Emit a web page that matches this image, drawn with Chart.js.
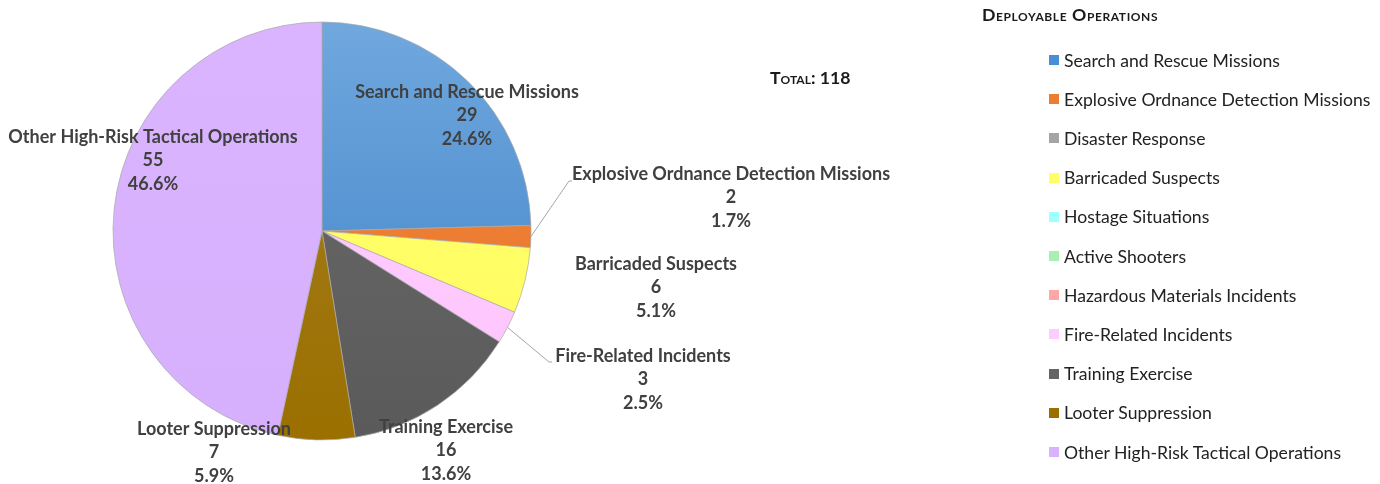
<!DOCTYPE html>
<html lang="en">
<head>
<meta charset="UTF-8" />
<title>Deployable Operations</title>
<script src="https://cdn.jsdelivr.net/npm/chart.js"></script>
<style>
	body { margin: 0; background: #fff; font-family: Lato, "Open Sans", sans-serif; }
	#wrap { position: relative; width: 1380px; height: 484px; overflow: hidden; }
	#pie { position: absolute; left: 0; top: 0; }
	.title { position: absolute; left: 982px; top: 4px; font-weight: bold; font-variant: small-caps; font-size: 17.7px; letter-spacing: 0.6px; color: #1a1a1a; white-space: nowrap; }
	.total { position: absolute; left: 770px; top: 67px; font-weight: bold; font-variant: small-caps; font-size: 17.7px; color: #1a1a1a; white-space: nowrap; }
	#legend { position: absolute; left: 1049px; top: 40px; }
	.item { position: absolute; left: 0; height: 20px; display: flex; align-items: center; white-space: nowrap; font-size: 17.6px; color: #222; }
	.swatch { width: 10px; height: 10px; margin-right: 5px; flex: none; }
</style>
</head>
<body>
<div id="wrap">
	<canvas id="pie" width="1380" height="484"></canvas>
	<div class="title">Deployable Operations</div>
	<div class="total" id="total"></div>
	<div id="legend"></div>
</div>
<script>
const categories = [
	'Search and Rescue Missions',
	'Explosive Ordnance Detection Missions',
	'Disaster Response',
	'Barricaded Suspects',
	'Hostage Situations',
	'Active Shooters',
	'Hazardous Materials Incidents',
	'Fire-Related Incidents',
	'Training Exercise',
	'Looter Suppression',
	'Other High-Risk Tactical Operations',
];
const counts = [29, 2, 0, 6, 0, 0, 0, 3, 16, 7, 55];

// slice colours: lighter at the top of the pie, darker at the bottom
const topColors = ['#70a8de', '#f08a45', '#b0b0b0', '#ffff70', '#a6ffff', '#b0f2b6', '#ffadad', '#ffccff', '#6c6c6c', '#a57d22', '#dab4fe'];
const bottomColors = ['#3c7fc6', '#e8701f', '#999999', '#fffc5c', '#94f8f8', '#a0eaa8', '#ff9f9f', '#fdc6fd', '#5a5a5a', '#9b7000', '#d6b0fc'];
const legendColors = ['#4a8fd6', '#ed7d31', '#a5a5a5', '#ffff66', '#a0ffff', '#a9f0b0', '#ffa6a6', '#ffccff', '#646464', '#9c7000', '#d9b3ff'];

// text anchors for the slice labels (centre x, first line y) and leader line ends
const labelPlacement = {
	'Search and Rescue Missions': { x: 467, y: 92 },
	'Explosive Ordnance Detection Missions': { x: 731, y: 174, leader: [569, 181] },
	'Barricaded Suspects': { x: 656, y: 264 },
	'Fire-Related Incidents': { x: 643, y: 356, leader: [549, 362] },
	'Training Exercise': { x: 446, y: 427 },
	'Looter Suppression': { x: 214, y: 429 },
	'Other High-Risk Tactical Operations': { x: 153, y: 137 },
};

const total = counts.reduce((a, b) => a + b, 0);
document.getElementById('total').textContent = 'Total: ' + total;

const legend = document.getElementById('legend');
categories.forEach((name, i) => {
	const row = document.createElement('div');
	row.className = 'item';
	row.style.top = (i * 39.2 + 10) + 'px';
	row.innerHTML = '<span class="swatch" style="background:' + legendColors[i] + '"></span>' + name;
	legend.appendChild(row);
});

const sliceLabels = {
	id: 'sliceLabels',
	afterDatasetsDraw(chart) {
		const ctx = chart.ctx;
		const meta = chart.getDatasetMeta(0);
		ctx.save();
		meta.data.forEach((arc, i) => {
			const value = counts[i];
			const place = labelPlacement[categories[i]];
			if (!value || !place) return;
			if (place.leader) {
				const { x, y, startAngle, endAngle, outerRadius } = arc.getProps(['x', 'y', 'startAngle', 'endAngle', 'outerRadius'], true);
				const mid = (startAngle + endAngle) / 2;
				ctx.strokeStyle = '#a6a6a6';
				ctx.lineWidth = 1;
				ctx.beginPath();
				ctx.moveTo(x + Math.cos(mid) * outerRadius, y + Math.sin(mid) * outerRadius);
				ctx.lineTo(place.leader[0], place.leader[1]);
				ctx.lineTo(place.leader[0] + 3, place.leader[1]);
				ctx.stroke();
			}
			ctx.font = 'bold 18px Lato';
			ctx.fillStyle = '#404040';
			ctx.textAlign = 'center';
			ctx.textBaseline = 'middle';
			const lines = [categories[i], String(value), (value / total * 100).toFixed(1) + '%'];
			lines.forEach((t, k) => ctx.fillText(t, place.x, place.y + k * 23.5));
		});
		ctx.restore();
	},
};

new Chart(document.getElementById('pie'), {
	type: 'pie',
	data: {
		labels: categories,
		datasets: [{
			data: counts,
			backgroundColor(context) {
				const area = context.chart.chartArea;
				if (!area) return legendColors[context.dataIndex];
				const g = context.chart.ctx.createLinearGradient(0, area.top, 0, area.bottom);
				g.addColorStop(0, topColors[context.dataIndex]);
				g.addColorStop(1, bottomColors[context.dataIndex]);
				return g;
			},
			borderColor: 'rgba(170,170,170,0.7)',
			borderWidth: (context) => (counts[context.dataIndex] ? 1 : 0),
			hoverOffset: 0,
		}],
	},
	options: {
		responsive: false,
		animation: false,
		radius: 209,
		layout: { padding: { left: 113, top: 22, right: 849, bottom: 44 } },
		plugins: {
			legend: { display: false },
			tooltip: { enabled: false },
		},
	},
	plugins: [sliceLabels],
});
</script>
</body>
</html>
